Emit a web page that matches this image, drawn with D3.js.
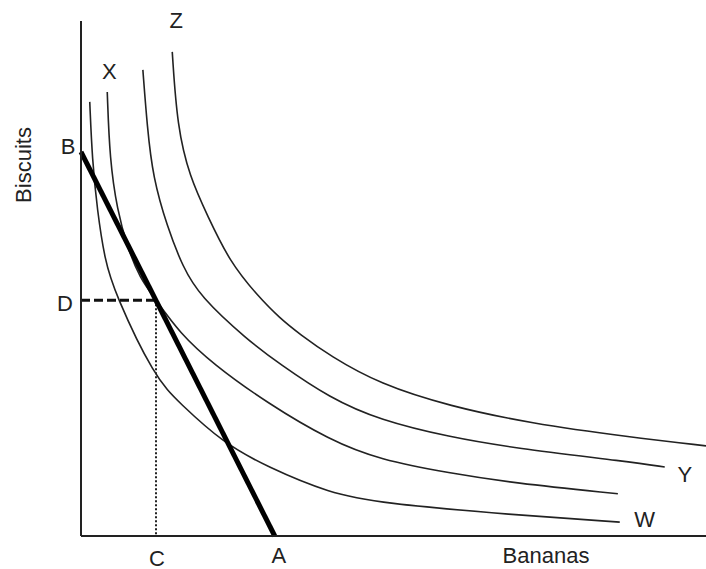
<!DOCTYPE html>
<html>
<head>
<meta charset="utf-8">
<script src="https://cdn.jsdelivr.net/npm/d3@7"></script>
<style>
  html, body { margin: 0; padding: 0; background: #fff; }
  svg { display: block; }
  text { font-family: "Liberation Sans", Arial, sans-serif; fill: #222; }
</style>
</head>
<body>
<div id="chart"></div>
<script>
// ---- data (bananas on x, biscuits on y, arbitrary units 0-100) ----
const curveNames = ["W", "X", "Y", "Z"];
const curveW = [[1.4,84.3],[1.8,73.0],[2.6,63.3],[3.8,53.6],[5.4,47.2],[11.8,30.7],[15.8,25.8],[22.7,18.1],[29.8,13.4],[39.8,8.3],[47.8,6.4],[69.1,4.1],[86.2,2.7]];
const curveX = [[4.2,86.2],[4.6,73.0],[5.8,63.3],[7.4,56.1],[9.4,50.1],[12.0,45.8],[15.8,39.4],[21.1,33.4],[29.8,25.8],[39.8,18.6],[47.8,14.8],[59.0,12.2],[69.1,10.3],[85.9,8.2]];
const curveY = [[9.9,90.5],[10.6,79.4],[11.5,69.7],[13.8,60.0],[16.3,52.2],[19.0,46.6],[26.6,38.1],[31.8,33.4],[39.8,26.8],[47.8,22.5],[59.0,19.2],[69.1,17.1],[87.8,14.4],[93.4,13.4]];
const curveZ = [[14.6,94.0],[15.4,79.4],[17.4,69.7],[20.2,62.3],[23.8,53.2],[28.3,46.6],[31.8,42.3],[35.0,39.2],[39.8,35.0],[47.8,29.5],[59.0,25.2],[71.8,21.9],[87.8,19.2],[100,17.5]];
const budgetB = 74.6;          // biscuits intercept
const budgetA = 31.0;          // bananas intercept
const optimum = [12.0, 45.8];  // tangency point (C, D)
const axisLabels = { x: "Bananas", y: "Biscuits" };

// ---- layout ----
const W = 706, H = 569;
const m = { left: 81, right: 0, top: 21, bottom: 33 };
const x = d3.scaleLinear().domain([0, 100]).range([m.left, W - m.right]);
const y = d3.scaleLinear().domain([0, 100]).range([H - m.bottom, m.top]);

const svg = d3.select("#chart").append("svg").attr("width", W).attr("height", H);

// indifference curves
const line = d3.line().x(d => x(d[0])).y(d => y(d[1])).curve(d3.curveBasis);
const curves = [curveW, curveX, curveY, curveZ];
svg.selectAll("path.ic").data(curves).join("path")
  .attr("class", "ic")
  .attr("d", line)
  .attr("fill", "none")
  .attr("stroke", "#222")
  .attr("stroke-width", 1.6);

// dashed horizontal D
svg.append("line")
  .attr("x1", x(0)).attr("y1", y(optimum[1]))
  .attr("x2", x(optimum[0])).attr("y2", y(optimum[1]))
  .attr("stroke", "#111").attr("stroke-width", 3).attr("stroke-dasharray", "9,4");
// dotted vertical C
svg.append("line")
  .attr("x1", x(optimum[0])).attr("y1", y(optimum[1]))
  .attr("x2", x(optimum[0])).attr("y2", y(0))
  .attr("stroke", "#222").attr("stroke-width", 2).attr("stroke-dasharray", "2,2");

// budget line
svg.append("line")
  .attr("x1", x(0)).attr("y1", y(budgetB))
  .attr("x2", x(budgetA)).attr("y2", y(0))
  .attr("stroke", "#000").attr("stroke-width", 5);

// axes
svg.append("line").attr("x1", x(0)).attr("y1", y(100)).attr("x2", x(0)).attr("y2", y(0))
  .attr("stroke", "#222").attr("stroke-width", 2);
svg.append("line").attr("x1", x(0)).attr("y1", y(0)).attr("x2", x(100)).attr("y2", y(0))
  .attr("stroke", "#222").attr("stroke-width", 2);

// labels
const fs = 22;
function label(t, px, py, anchor) {
  svg.append("text").attr("x", px).attr("y", py).attr("text-anchor", anchor || "middle")
    .attr("dominant-baseline", "central").attr("font-size", fs).text(t);
}
label("B", x(0) - 13, y(budgetB) - 5);
label("D", x(0) - 16, y(optimum[1]) + 3);
label("C", x(optimum[0]) + 1, y(0) + 22);
label("A", x(budgetA) + 4, y(0) + 19);
label(axisLabels.x, x(74.4), y(0) + 19);
const lw = curveW[curveW.length - 1], ly = curveY[curveY.length - 1];
label("W", x(lw[0]) + 25, y(lw[1]) - 3);
label("Y", x(ly[0]) + 20, y(ly[1]) + 8);
label("X", x(curveX[0][0]) + 2, y(curveX[0][1]) - 21);
label("Z", x(curveZ[0][0]) + 4, y(curveZ[0][1]) - 31);
svg.append("text").attr("transform", `translate(23,${165}) rotate(-90)`)
  .attr("text-anchor", "middle").attr("dominant-baseline", "central")
  .attr("font-size", fs).text(axisLabels.y);
</script>
</body>
</html>
